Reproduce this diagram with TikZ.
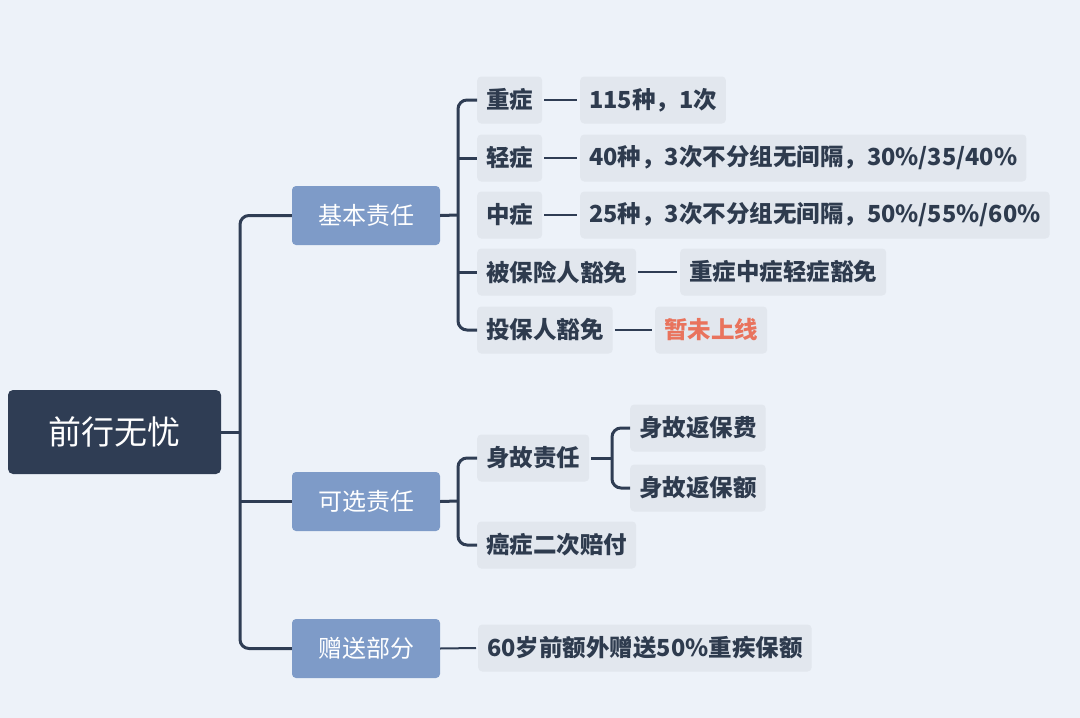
\documentclass[tikz,border=0pt]{standalone}
\usepackage{fontspec}
\setmainfont{Noto Sans CJK SC}
\newfontfamily\cjkmed{Noto Sans CJK SC Medium}
\definecolor{bg}{HTML}{EDF2F9}
\definecolor{rootc}{HTML}{2F3D54}
\definecolor{lonec}{HTML}{7E9BC8}
\definecolor{boxc}{HTML}{E2E7EE}
\definecolor{txt}{HTML}{2E3B4E}
\definecolor{redt}{HTML}{E9735D}
\begin{document}
\begin{tikzpicture}[x=1pt,y=-1pt,
  rootbox/.style={fill=rootc,rounded corners=5pt,text=white,font=\fontsize{33}{33}\selectfont,minimum width=213pt,minimum height=84pt,inner sep=0pt},
  lonebox/.style={fill=lonec,rounded corners=4pt,text=white,font=\fontsize{24}{24}\selectfont,minimum width=148pt,minimum height=59pt,inner sep=0pt},
  leaf/.style={fill=boxc,rounded corners=4pt,text=txt,font=\fontsize{23.5}{24}\selectfont\bfseries,minimum height=47pt,inner xsep=9pt,inner ysep=0pt,anchor=west},
  conn/.style={draw=rootc,line width=3pt,rounded corners=9pt},
  dashc/.style={draw=rootc,line width=2pt}
]
\fill[bg] (0,0) rectangle (1080,718);
\useasboundingbox (0,0) rectangle (1080,718);

% root and level 1
\node[rootbox] (root) at (114.5,432) {前行无忧};
\node[lonebox] (jb) at (366,215.5) {基本责任};
\node[lonebox] (kx) at (366,501.5) {可选责任};
\node[lonebox] (zs) at (366,648.5) {赠送部分};

\coordinate (t) at (240,432);
\draw[conn] (root.east) -- (t);
\draw[conn] (jb.west) -| (t) |- (zs.west);
\draw[conn] (t |- kx.west) -- (kx.west);

% level 2 under 基本责任
\node[leaf] (zz) at (477,100) {重症};
\node[leaf] (qz) at (477,158) {轻症};
\node[leaf] (mz) at (477,215) {中症};
\node[leaf] (bb) at (477,272) {被保险人豁免};
\node[leaf] (tb) at (477,330) {投保人豁免};

\coordinate (b1) at (458,215);
\draw[conn] (jb.east) -- (b1);
\draw[conn] (zz.west) -| (b1) |- (tb.west);
\draw[conn] (b1 |- qz.west) -- (qz.west);
\draw[conn] (b1 |- bb.west) -- (bb.west);

\node[leaf] (zzv) at (580,100) {115种，1次};
\node[leaf] (qzv) at (580,158) {40种，3次不分组无间隔，30\%/35/40\%};
\node[leaf] (mzv) at (580,215) {25种，3次不分组无间隔，50\%/55\%/60\%};
\node[leaf] (bbv) at (680,272) {重症中症轻症豁免};
\node[leaf,text=redt] (tbv) at (655,330) {暂未上线};

\draw[dashc] ([xshift=2pt]zz.east) -- ([xshift=-3pt]zzv.west);
\draw[dashc] ([xshift=2pt]qz.east) -- ([xshift=-3pt]qzv.west);
\draw[dashc] ([xshift=2pt]mz.east) -- ([xshift=-3pt]mzv.west);
\draw[dashc] ([xshift=2pt]bb.east) -- ([xshift=-3pt]bbv.west);
\draw[dashc] ([xshift=2pt]tb.east) -- ([xshift=-3pt]tbv.west);

% level 2 under 可选责任
\node[leaf] (sg) at (477,458) {身故责任};
\node[leaf] (az) at (477,545) {癌症二次赔付};
\coordinate (b2) at (458,501);
\draw[conn] (kx.east) -- (b2);
\draw[conn] (sg.west) -| (b2) |- (az.west);

\node[leaf] (sf) at (630,428) {身故返保费};
\node[leaf] (se) at (630,488) {身故返保额};
\coordinate (b3) at (612,458);
\draw[conn] ([xshift=2pt]sg.east) -- (b3);
\draw[conn] (sf.west) -| (b3) |- (se.west);

% 赠送部分
\node[leaf] (zsv) at (478,648) {60岁前额外赠送50\%重疾保额};
\draw[dashc] (zs.east) -- ([xshift=-2pt]zsv.west);
\end{tikzpicture}
\end{document}
